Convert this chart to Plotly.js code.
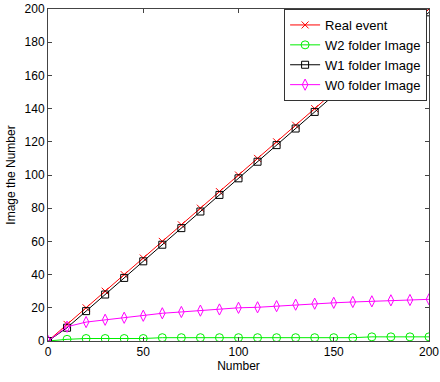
<!DOCTYPE html>
<html>
<head>
<meta charset="utf-8">
<script src="https://cdn.plot.ly/plotly-3.0.1.min.js"></script>
<style>html,body{margin:0;padding:0;background:#fff;}#chart{width:440px;height:382px;}</style>
</head>
<body>
<div id="chart"></div>
<script>
const xs = [0,10,20,30,40,50,60,70,80,90,100,110,120,130,140,150,160,170,180,190,200];
const realEvent = [0,10,20,30,40,50,60,70,80,90,100,110,120,130,140,150,160,170,180,190,200];
const w2 = [0,1,1.5,1.5,1.5,1.5,2,2,2,2,2,2,2,2,2,2,2,2.5,2.5,2.5,2.5];
const w1 = [0,8,18,28,38,48,58,68,78,88,98,108,118,128,138,148,158,168,178,188,198];
const w0 = [0,8.6,11.4,12.8,14,15.2,16.7,17.5,18.3,19,20,20.3,21,21.9,22.5,23,23.5,23.9,24.5,24.7,25.1];
const names = ["Real event","W2 folder Image","W1 folder Image","W0 folder Image"];
const xTicks = [0,50,100,150,200];
const yTicks = [0,20,40,60,80,100,120,140,160,180,200];

const traces = [
  {x: xs, y: realEvent, name: names[0], mode: "lines+markers",
   line: {color: "#ff0000", width: 1}, marker: {symbol: "x-thin-open", size: 7, color: "#ff0000", line: {color: "#ff0000", width: 1}}},
  {x: xs, y: w2, name: names[1], mode: "lines+markers",
   line: {color: "#00ee00", width: 1}, marker: {symbol: "circle-open", size: 8, color: "#00ee00", line: {width: 1}}},
  {x: xs, y: w1, name: names[2], mode: "lines+markers",
   line: {color: "#000000", width: 1}, marker: {symbol: "square-open", size: 7, color: "#000000", line: {width: 1}}},
  {x: xs, y: w0, name: names[3], mode: "lines+markers",
   line: {color: "#ff00ff", width: 1}, marker: {symbol: "diamond-tall-open", size: 8, color: "#ff00ff", line: {width: 1}}}
];

const axisCommon = {
  showline: true, linecolor: "#444", linewidth: 1, mirror: "allticks",
  ticks: "inside", ticklen: 4, tickcolor: "#444", showgrid: false, zeroline: false,
  tickfont: {family: "Liberation Sans, Arial, sans-serif", size: 12, color: "#000"}
};

const layout = {
  width: 440, height: 382,
  margin: {l: 48, r: 11, t: 9, b: 41},
  paper_bgcolor: "#fff", plot_bgcolor: "#fff",
  font: {family: "Liberation Sans, Arial, sans-serif", size: 12, color: "#000"},
  showlegend: true,
  legend: {x: 0.995, xanchor: "right", y: 1, yanchor: "top", bgcolor: "#fff",
           bordercolor: "#333", borderwidth: 1, font: {size: 13},
           tracegroupgap: 0, itemwidth: 30},
  xaxis: Object.assign({}, axisCommon, {range: [0, 200], tickvals: xTicks, ticktext: xTicks.map(String),
           title: {text: "Number", standoff: 2, font: {size: 12}}}),
  yaxis: Object.assign({}, axisCommon, {range: [0, 200], tickvals: yTicks, ticktext: yTicks.map(String),
           title: {text: "Image the Number", standoff: 6, font: {size: 12}}})
};

Plotly.newPlot("chart", traces, layout, {displayModeBar: false, staticPlot: true});
</script>
</body>
</html>
